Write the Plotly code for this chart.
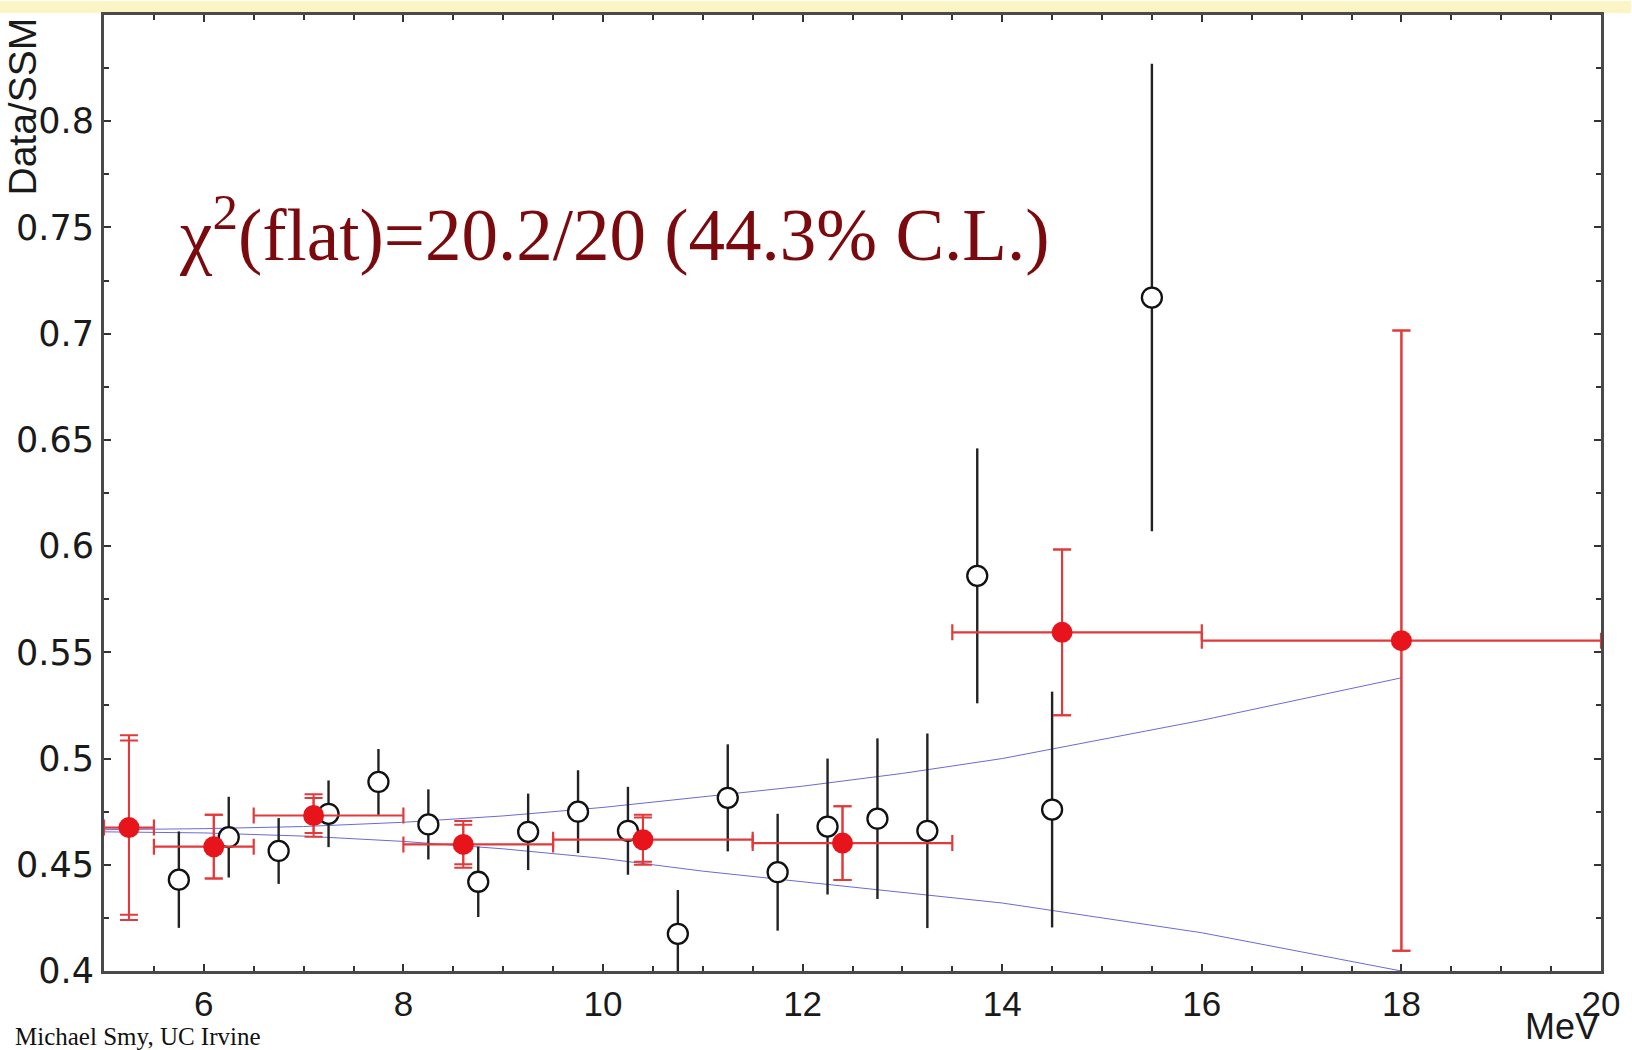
import plotly.graph_objects as go

# Super-K style energy spectrum: measured / SSM prediction vs recoil energy

# 0.5 MeV bins (open circles)
bin_energy = [5.75, 6.25, 6.75, 7.25, 7.75, 8.25, 8.75, 9.25, 9.75, 10.25,
              10.75, 11.25, 11.75, 12.25, 12.75, 13.25, 13.75, 14.5, 15.5]
bin_ratio = [0.443, 0.463, 0.4565, 0.474, 0.489, 0.469, 0.442, 0.4655, 0.475, 0.466,
             0.4175, 0.4815, 0.4465, 0.468, 0.4717, 0.466, 0.586, 0.476, 0.717]
bin_err = [0.0227, 0.019, 0.0155, 0.0157, 0.0155, 0.0165, 0.0166, 0.018, 0.0195, 0.0207,
           0.0206, 0.0252, 0.0275, 0.032, 0.0378, 0.0458, 0.060, 0.0555, 0.110]

# Combined wide bins (filled red points)
wide_energy = [5.25, 6.1, 7.1, 8.6, 10.4, 12.4, 14.6, 18.0]
wide_ratio = [0.4675, 0.4585, 0.4732, 0.4596, 0.4618, 0.4602, 0.5594, 0.5555]
wide_err_total = [0.0435, 0.015, 0.0100, 0.0110, 0.0118, 0.0174, 0.039, 0.146]
wide_err_stat = [0.041, 0.015, 0.0082, 0.0093, 0.0104, 0.0174, 0.039, 0.146]
wide_lo = [5.0, 5.5, 6.5, 8.0, 9.5, 11.5, 13.5, 16.0]
wide_hi = [5.5, 6.5, 8.0, 9.5, 11.5, 13.5, 16.0, 20.0]

# Energy-correlated systematic band
band_energy = [5.0, 6.0, 7.0, 8.0, 9.0, 10.0, 11.0, 12.0, 13.0, 14.0, 15.0, 16.0, 17.0, 18.0]
band_upper = [0.4665, 0.467, 0.468, 0.470, 0.473, 0.477, 0.482, 0.487, 0.493, 0.500,
              0.509, 0.518, 0.528, 0.538]
band_lower = [0.4655, 0.465, 0.4635, 0.461, 0.4575, 0.453, 0.447, 0.442, 0.437, 0.432,
              0.425, 0.418, 0.409, 0.400]

x_ticks = [6, 8, 10, 12, 14, 16, 18, 20]
y_ticks = [0.4, 0.45, 0.5, 0.55, 0.6, 0.65, 0.7, 0.75, 0.8]
y_tick_text = ["0.4", "0.45", "0.5", "0.55", "0.6", "0.65", "0.7", "0.75", "0.8"]

RED = "#e8141c"
RED_BAR = "#e23a3a"
BLUE = "#6a6ad8"
INK = "#1a1a1a"

fig = go.Figure()

for ys in (band_upper, band_lower):
    fig.add_trace(go.Scatter(x=band_energy, y=ys, mode="lines",
                             line=dict(color=BLUE, width=1), hoverinfo="skip"))

fig.add_trace(go.Scatter(
    x=bin_energy, y=bin_ratio, mode="markers",
    marker=dict(symbol="circle", size=20, color="white",
                line=dict(color="#111111", width=2.3)),
    error_y=dict(type="data", array=bin_err, color="#222222", thickness=2.4, width=0),
))

x_plus = [h - e for h, e in zip(wide_hi, wide_energy)]
x_minus = [e - l for e, l in zip(wide_energy, wide_lo)]

# statistical-only error caps
fig.add_trace(go.Scatter(
    x=wide_energy, y=wide_ratio, mode="markers",
    marker=dict(size=1, color="rgba(0,0,0,0)"),
    error_y=dict(type="data", array=wide_err_stat, color=RED_BAR, thickness=2, width=9),
))

fig.add_trace(go.Scatter(
    x=wide_energy, y=wide_ratio, mode="markers",
    marker=dict(symbol="circle", size=21, color=RED, line=dict(width=0)),
    error_y=dict(type="data", array=wide_err_total, color=RED_BAR, thickness=2, width=9),
    error_x=dict(type="data", array=x_plus, arrayminus=x_minus, color=RED_BAR,
                 thickness=2.2, width=8),
))

axis_common = dict(
    showline=True, linecolor="#4a4a4a", linewidth=3, mirror="allticks",
    ticks="inside", ticklen=7, tickwidth=2, tickcolor="#333333",
    showgrid=False, zeroline=False,
)

fig.update_xaxes(range=[5, 20], tickvals=x_ticks,
                 tickfont=dict(family="Liberation Sans, Arial, sans-serif", size=35, color=INK),
                 minor=dict(dtick=0.5, ticks="inside", ticklen=5, tickwidth=2,
                            tickcolor="#333333", showgrid=False),
                 **axis_common)
fig.update_yaxes(range=[0.4, 0.85], tickvals=y_ticks, ticktext=y_tick_text,
                 tickfont=dict(family="DejaVu Sans, sans-serif", size=35, color=INK),
                 minor=dict(dtick=0.025, ticks="inside", ticklen=5, tickwidth=2,
                            tickcolor="#333333", showgrid=False),
                 **axis_common)

fig.add_annotation(
    x=5.727, y=0.749, xref="x", yref="y", xanchor="left", yanchor="middle",
    text="χ<sup>2</sup>(flat)=20.2/20 (44.3% C.L.)", showarrow=False,
    font=dict(family="Liberation Serif, Times New Roman, serif", size=73, color="#7a0a0e"),
)
fig.add_annotation(
    x=-0.0544, y=0.999, xref="paper", yref="paper", xanchor="center", yanchor="top",
    text="Data/SSM", textangle=-90, showarrow=False,
    font=dict(family="Liberation Sans, Arial, sans-serif", size=39, color=INK),
)
fig.add_annotation(
    x=0.974, y=-0.0585, xref="paper", yref="paper", xanchor="center", yanchor="middle",
    text="MeV", showarrow=False,
    font=dict(family="Liberation Sans, Arial, sans-serif", size=36, color=INK),
)
fig.add_annotation(
    x=-0.061, y=-0.0685, xref="paper", yref="paper", xanchor="left", yanchor="middle",
    text="Michael Smy, UC Irvine", showarrow=False,
    font=dict(family="Liberation Serif, Times New Roman, serif", size=25, color="#111111"),
)

# pale yellow band along the top edge of the page
fig.add_shape(type="rect", xref="paper", yref="paper",
              x0=-0.08, x1=1.02, y0=1.002, y1=1.0147,
              fillcolor="#fbf5c6", line=dict(width=0), layer="below")

fig.update_layout(
    width=1632, height=1050,
    margin=dict(l=104, r=21, t=14, b=79),
    paper_bgcolor="white", plot_bgcolor="white",
    showlegend=False,
)

fig.write_html("out.html")
